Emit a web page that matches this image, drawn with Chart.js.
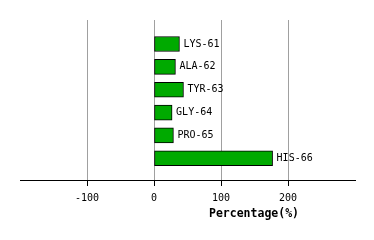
<!DOCTYPE html>
<html>
<head>
<meta charset="utf-8">
<script src="https://cdn.jsdelivr.net/npm/chart.js@4/dist/chart.umd.min.js"></script>
<style>
html,body{margin:0;padding:0;background:#fff;}
#wrap{width:374px;height:240px;}
</style>
</head>
<body>
<div id="wrap"><canvas id="c" width="374" height="240"></canvas></div>
<script>
const categories = ['LYS-61', 'ALA-62', 'TYR-63', 'GLY-64', 'PRO-65', 'HIS-66'];
const values = [38, 32, 44, 27, 29, 177];
const xTicks = [-100, 0, 100, 200];
const xMin = -200, xMax = 300;
const axisTitle = 'Percentage(%)';

const points = values.map((v, i) => ({ x: v, y: i }));

const barLabels = {
  id: 'barLabels',
  afterDatasetsDraw(chart) {
    const ctx = chart.ctx;
    const meta = chart.getDatasetMeta(0);
    ctx.save();
    ctx.font = '10px "DejaVu Sans Mono"';
    ctx.fillStyle = '#000';
    ctx.textBaseline = 'middle';
    ctx.textAlign = 'left';
    meta.data.forEach((el, i) => {
      ctx.fillText(categories[i], el.x + 4, el.y);
    });
    ctx.font = 'bold 11.5px "DejaVu Sans Mono"';
    ctx.textAlign = 'center';
    ctx.fillText(axisTitle, 254, 214);
    ctx.restore();
  }
};

new Chart(document.getElementById('c'), {
  type: 'bar',
  data: {
    datasets: [{
      data: points,
      backgroundColor: '#00aa00',
      borderColor: '#000',
      borderWidth: 1,
      borderSkipped: false,
      barThickness: 15
    }]
  },
  options: {
    indexAxis: 'y',
    responsive: false,
    animation: false,
    layout: { padding: { left: 20, right: 19, top: 20, bottom: 0 } },
    plugins: { legend: { display: false }, tooltip: { enabled: false } },
    scales: {
      y: {
        type: 'linear',
        display: false,
        reverse: true,
        offset: false,
        min: -1.05,
        max: 5.95
      },
      x: {
        type: 'linear',
        min: xMin,
        max: xMax,
        afterBuildTicks(scale) { scale.ticks = xTicks.map(v => ({ value: v })); },
        afterFit(scale) { scale.height = 60; },
        grid: { color: '#a0a0a0', tickColor: '#000', tickLength: 6, lineWidth: 1 },
        border: { color: '#000', width: 1 },
        ticks: {
          autoSkip: false,
          maxRotation: 0,
          padding: 6,
          color: '#000',
          font: { family: '"DejaVu Sans Mono"', size: 10 }
        }
      }
    }
  },
  plugins: [barLabels]
});
</script>
</body>
</html>
